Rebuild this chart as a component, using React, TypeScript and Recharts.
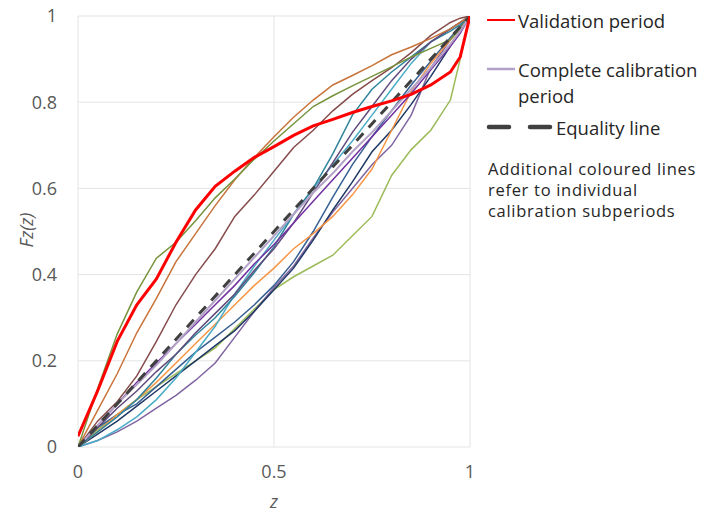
import React from 'react';
import { LineChart, Line, XAxis, YAxis, CartesianGrid, Legend } from 'recharts';

const zGrid = [0, 0.05, 0.1, 0.15, 0.2, 0.25, 0.3, 0.35, 0.4, 0.45, 0.5, 0.55, 0.6, 0.65, 0.7, 0.75, 0.8, 0.85, 0.9, 0.95, 0.975, 1];

const xTicks = [0, 0.5, 1];
const yTicks = [0, 0.2, 0.4, 0.6, 0.8, 1];

const validationF = [0.025, 0.13, 0.245, 0.33, 0.39, 0.475, 0.55, 0.605, 0.64, 0.672, 0.697, 0.723, 0.745, 0.76, 0.776, 0.79, 0.803, 0.818, 0.84, 0.87, 0.905, 1];
const completeF = [0, 0.05, 0.1, 0.145, 0.19, 0.24, 0.29, 0.34, 0.39, 0.44, 0.49, 0.54, 0.59, 0.635, 0.685, 0.73, 0.78, 0.83, 0.88, 0.935, 0.965, 1];
const equalityZ = [0, 1];
const equalityF = [0, 1];

const oliveF = [0, 0.135, 0.262, 0.36, 0.438, 0.475, 0.525, 0.578, 0.622, 0.668, 0.71, 0.75, 0.79, 0.815, 0.838, 0.86, 0.882, 0.905, 0.925, 0.945, 0.97, 1];
const brownOrangeF = [0, 0.085, 0.17, 0.265, 0.345, 0.43, 0.495, 0.56, 0.62, 0.672, 0.72, 0.765, 0.805, 0.84, 0.862, 0.885, 0.91, 0.928, 0.948, 0.97, 0.985, 1];
const maroonF = [0, 0.06, 0.105, 0.165, 0.245, 0.33, 0.4, 0.46, 0.535, 0.585, 0.64, 0.695, 0.735, 0.78, 0.818, 0.85, 0.88, 0.915, 0.955, 0.985, 0.995, 1];
const lightGreenF = [0, 0.04, 0.075, 0.11, 0.14, 0.17, 0.2, 0.23, 0.275, 0.32, 0.365, 0.395, 0.42, 0.445, 0.49, 0.535, 0.63, 0.69, 0.735, 0.805, 0.9, 1];
const tealF = [0, 0.035, 0.07, 0.11, 0.16, 0.215, 0.26, 0.3, 0.35, 0.405, 0.465, 0.54, 0.6, 0.68, 0.77, 0.83, 0.87, 0.905, 0.94, 0.965, 0.98, 1];
const cyanF = [0, 0.015, 0.04, 0.07, 0.11, 0.16, 0.22, 0.28, 0.355, 0.42, 0.48, 0.54, 0.6, 0.655, 0.71, 0.77, 0.83, 0.89, 0.94, 0.97, 0.985, 1];
const orangeF = [0, 0.035, 0.075, 0.11, 0.15, 0.195, 0.24, 0.285, 0.33, 0.375, 0.415, 0.46, 0.495, 0.535, 0.585, 0.645, 0.735, 0.825, 0.89, 0.945, 0.97, 1];
const navyF = [0, 0.03, 0.06, 0.095, 0.13, 0.165, 0.2, 0.235, 0.27, 0.315, 0.365, 0.415, 0.48, 0.55, 0.615, 0.685, 0.735, 0.795, 0.86, 0.93, 0.965, 1];
const purpleF = [0, 0.015, 0.035, 0.06, 0.09, 0.12, 0.155, 0.195, 0.255, 0.315, 0.37, 0.42, 0.485, 0.545, 0.6, 0.655, 0.7, 0.77, 0.88, 0.945, 0.975, 1];
const darkPurpleF = [0, 0.045, 0.09, 0.13, 0.175, 0.215, 0.265, 0.31, 0.355, 0.41, 0.46, 0.52, 0.59, 0.66, 0.73, 0.79, 0.85, 0.9, 0.94, 0.97, 0.985, 1];
const steelF = [0, 0.045, 0.075, 0.1, 0.14, 0.18, 0.22, 0.255, 0.29, 0.33, 0.375, 0.43, 0.5, 0.58, 0.655, 0.72, 0.78, 0.84, 0.895, 0.95, 0.975, 1];
const violetF = [0, 0.05, 0.1, 0.15, 0.195, 0.24, 0.285, 0.33, 0.375, 0.425, 0.47, 0.52, 0.57, 0.62, 0.67, 0.72, 0.77, 0.82, 0.875, 0.93, 0.96, 1];

const subperiodValues = [lightGreenF, purpleF, navyF, steelF, orangeF, cyanF, tealF, darkPurpleF, violetF, maroonF, brownOrangeF, oliveF];
const subperiodColors = ['#9BBB59', '#8064A2', '#1F3864', '#376092', '#F79646', '#4BACC6', '#31859C', '#604A7B', '#7030A0', '#864B4B', '#C8733A', '#77933C'];

const makeSeries = (values: number[], zs: number[] = zGrid) => zs.map((z, i) => ({ z, F: values[i] }));

const FONT = '"Open Sans", "Noto Sans", sans-serif';
const TICK_COLOR = '#595959';
const TEXT_COLOR = '#262626';

const LegendBox = () => (
  <svg width={227} height={230} style={{ display: 'block', fontFamily: FONT }}>
    <line x1={7} x2={35} y1={20} y2={20} stroke="#FF0000" strokeWidth={2} />
    <text x={38} y={20} dominantBaseline="central" fontSize={18.5} fill={TEXT_COLOR}>Validation period</text>
    <line x1={7} x2={35} y1={69} y2={69} stroke="#B3A2C7" strokeWidth={2.5} />
    <text x={38} y={69} dominantBaseline="central" fontSize={18.5} fill={TEXT_COLOR}>Complete calibration</text>
    <text x={38} y={95} dominantBaseline="central" fontSize={18.5} fill={TEXT_COLOR}>period</text>
    <line x1={9} x2={29} y1={127} y2={127} stroke="#404040" strokeWidth={4.5} strokeLinecap="round" />
    <line x1={50} x2={70} y1={127} y2={127} stroke="#404040" strokeWidth={4.5} strokeLinecap="round" />
    <text x={76} y={127} dominantBaseline="central" fontSize={18.5} fill={TEXT_COLOR}>Equality line</text>
    <text x={8} y={168} dominantBaseline="central" fontSize={16.5} letterSpacing={0.7} fill={TEXT_COLOR}>Additional coloured lines</text>
    <text x={8} y={189} dominantBaseline="central" fontSize={16.5} letterSpacing={0.7} fill={TEXT_COLOR}>refer to individual</text>
    <text x={8} y={210} dominantBaseline="central" fontSize={16.5} letterSpacing={0.7} fill={TEXT_COLOR}>calibration subperiods</text>
  </svg>
);

export default function App() {
  return (
    <div style={{ width: 707, height: 513, background: '#fff' }}>
      <style>{`body{margin:0;background:#fff;}`}</style>
      <LineChart width={707} height={513} margin={{ top: 16, right: 237, bottom: 26, left: 0 }}>
        <CartesianGrid stroke="#E4E4E4" strokeWidth={1} />
        <XAxis
          type="number"
          dataKey="z"
          domain={[0, 1]}
          ticks={xTicks}
          tickFormatter={(v: number) => String(v)}
          axisLine={false}
          tickLine={false}
          tickSize={0}
          tickMargin={18}
          height={40}
          tick={{ fill: TICK_COLOR, fontSize: 18, fontFamily: FONT }}
          label={{ value: 'z', position: 'bottom', offset: 8, fill: TICK_COLOR, fontSize: 18, fontStyle: 'italic', fontFamily: FONT }}
          allowDataOverflow
        />
        <YAxis
          type="number"
          domain={[0, 1]}
          ticks={yTicks}
          tickFormatter={(v: number) => String(v)}
          axisLine={false}
          tickLine={false}
          tickSize={0}
          tickMargin={21}
          width={78}
          tick={{ fill: TICK_COLOR, fontSize: 18, fontFamily: FONT }}
          label={{
            content: () => (
              <text x={26} y={230} transform="rotate(-90 26 230)" textAnchor="middle" dominantBaseline="central" fill={TICK_COLOR} fontSize={18} fontStyle="italic" fontFamily={FONT}>Fz(z)</text>
            ),
          }}
          allowDataOverflow
        />
        {subperiodValues.map((vals, i) => (
          <Line
            key={'sub' + i}
            data={makeSeries(vals)}
            dataKey="F"
            type="linear"
            stroke={subperiodColors[i]}
            strokeWidth={1.5}
            dot={false}
            activeDot={false}
            isAnimationActive={false}
          />
        ))}
        <Line data={makeSeries(completeF)} dataKey="F" type="linear" stroke="#B3A2C7" strokeWidth={2} dot={false} activeDot={false} isAnimationActive={false} />
        <Line data={makeSeries(equalityF, equalityZ)} dataKey="F" type="linear" stroke="#404040" strokeWidth={3} strokeDasharray="10 8" dot={false} activeDot={false} isAnimationActive={false} />
        <Line data={makeSeries(validationF)} dataKey="F" type="linear" stroke="#FF0000" strokeWidth={3} dot={false} activeDot={false} isAnimationActive={false} />
        <Legend
          layout="horizontal"
          verticalAlign="middle"
          align="center"
          content={() => <LegendBox />}
          wrapperStyle={{ position: 'absolute', left: 480, top: 0, width: 227, height: 230 }}
        />
      </LineChart>
    </div>
  );
}
